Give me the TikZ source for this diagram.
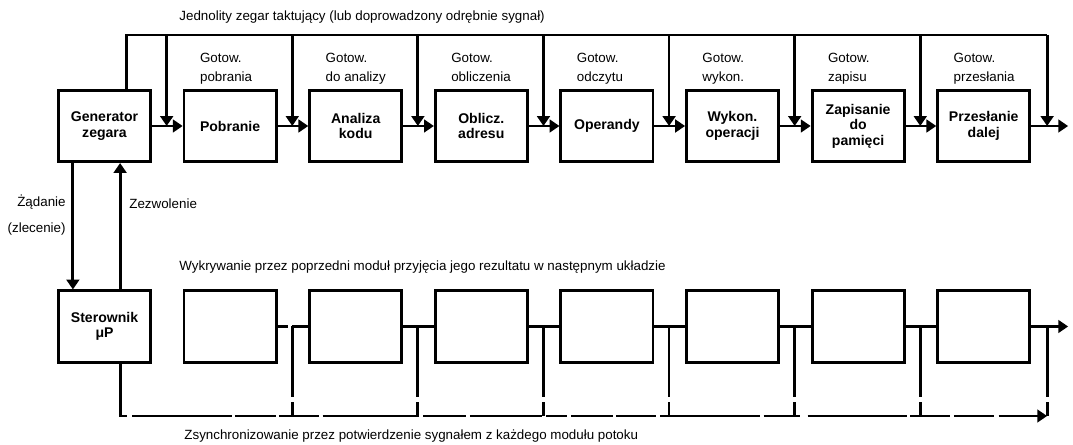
\documentclass[tikz,border=0pt]{standalone}
\usepackage{fontspec}
\setmainfont{Liberation Sans}
\usetikzlibrary{arrows.meta}

\begin{document}
\begin{tikzpicture}[x=.025cm,y=-.025cm,line width=2pt,
  blok/.style={draw,minimum width=2.3cm,minimum height=1.78cm,align=center,
    font=\fontsize{10}{11}\selectfont\bfseries},
  opis/.style={font=\fontsize{9.5}{13.5}\selectfont,inner sep=0pt},
  tik/.style={-{Triangle[width=9pt,length=7pt]}},
  szyna/.style={dash pattern=on 42.5pt off 3.5pt on 70.9pt off 2.1pt on 29.1pt off 2.1pt
    on 28.3pt off 2.8pt on 68.7pt off 2.8pt on 30.5pt off 2.8pt on 51pt off 2.8pt
    on 14.9pt off 3.5pt on 29.8pt off 2.1pt on 28.3pt off 2.8pt on 70.9pt off 2.8pt
    on 25.5pt off 5.7pt on 70.9pt off 2.1pt on 28.3pt off 2.8pt on 28.3pt off 3.5pt
    on 60pt off 0pt},
  zejscie/.style={dash pattern=on 50.3pt off 3.5pt}]
  \useasboundingbox (0,0) rectangle (1073,445);

  % gorny tor: generator i kolejne stopnie
  \node[blok] (gen) at (104.5,126) {Generator\\zegara};
  \foreach \i/\txt/\got in {1/Pobranie/pobrania,2/{Analiza\\kodu}/do analizy,
      3/{Oblicz.\\adresu}/obliczenia,4/Operandy/odczytu,5/{Wykon.\\operacji}/wykon.,
      6/{Zapisanie\\do\\pamięci}/zapisu,7/{Przesłanie\\dalej}/przesłania}{
    \node[blok] (s\i) at (104.5+125.6*\i,126) {\txt};
    \node[opis,anchor=north west,align=left] (g\i) at ([xshift=.4cm,yshift=.92cm]s\i.north west)
      {Gotow.\\\got};
  }
  \node[opis,anchor=west] (tytul) at (178,17)
    {Jednolity zegar taktujący (lub doprowadzony odrębnie sygnał)};

  % linia zegarowa
  \foreach \i in {1,...,7} \coordinate (k\i) at ([xshift=-.4cm]s\i.west);
  \coordinate (k8) at ([xshift=.4cm]s7.east);
  \coordinate (szczyt) at (0,35);
  \draw ([xshift=.54cm]gen.north) |- (k8 |- szczyt);
  \foreach \i in {1,...,8} \draw[tik] (k\i |- szczyt) -- (k\i);

  % sygnal przez stopnie
  \coordinate (wyj) at ([xshift=.925cm]s7.east);
  \draw[tik] (gen) -- (s1);
  \foreach \i [count=\j from 2] in {1,...,6} \draw[tik] (s\i) -- (s\j);
  \draw[tik] (s7) -- (wyj);

  % dolny tor
  \node[blok] (pro) at (104.5,326.5) {Sterownik\\μP};
  \foreach \i in {1,...,7} \node[blok] (m\i) at (104.5+125.6*\i,326.5) {};
  \node[opis,anchor=west] (podpis) at (178,267)
    {Wykrywanie przez poprzedni moduł przyjęcia jego rezultatu w następnym układzie};
  \node[opis,anchor=west] (stopka) at (183,436)
    {Zsynchronizowanie przez potwierdzenie sygnałem z każdego modułu potoku};

  \foreach \i in {2,...,8} \coordinate (w\i) at (k\i |- m1.west);
  \draw (m1.east) -- ++(.25cm,0);
  \draw (w2) -- (m2);
  \foreach \i [count=\j from 3] in {2,...,6} \draw (m\i) -- (m\j);
  \draw[tik] (m7) -- (wyj |- m7.east);

  \coordinate (dol) at (0,416);
  \foreach \i in {2,...,8} \draw[zejscie] (w\i) -- (w\i |- dol);
  \draw[szyna,tik] ([xshift=.39cm]pro.south) |- (w8 |- dol);

  % zadanie i zezwolenie
  \draw[tik] ([xshift=-.79cm]gen.south) -- ([xshift=-.79cm]pro.north);
  \draw[tik] ([xshift=.39cm]pro.north) -- ([xshift=.39cm]gen.south);
  \node[opis,anchor=east,align=right,font=\fontsize{9.5}{18}\selectfont] (zad) at (67,215)
    {Żądanie\\(zlecenie)};
  \node[opis,anchor=west] (zezw) at (128,204) {Zezwolenie};
\end{tikzpicture}
\end{document}
